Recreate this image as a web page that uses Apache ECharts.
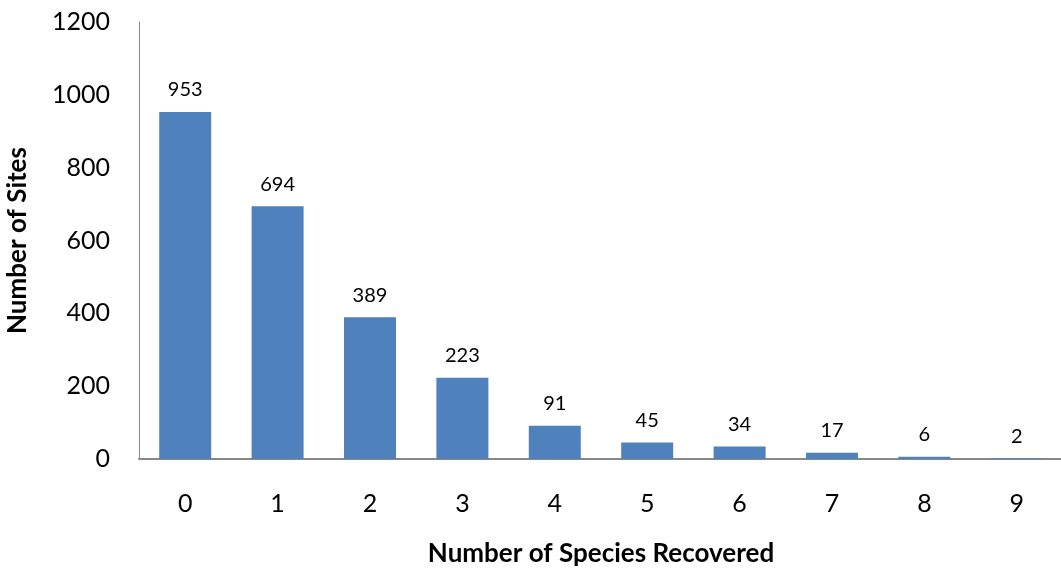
<!DOCTYPE html>
<html>
<head>
<meta charset="utf-8">
<script src="https://cdn.jsdelivr.net/npm/echarts@6/dist/echarts.min.js"></script>
<style>
  html, body { margin: 0; padding: 0; background: #fff; }
  #chart { width: 1061px; height: 569px; }
</style>
</head>
<body>
<div id="chart"></div>
<script>
// Species recovered per site vs. count of sites
const categories = ['0', '1', '2', '3', '4', '5', '6', '7', '8', '9'];
const siteCounts = [953, 694, 389, 223, 91, 45, 34, 17, 6, 2];
const yTicks = { min: 0, max: 1200, interval: 200 };

const fontFamily = 'Lato, "Open Sans", sans-serif';

const chart = echarts.init(document.getElementById('chart'), null, { renderer: 'canvas' });
chart.setOption({
  animation: false,
  grid: { left: 139, top: 22, width: 924, height: 437, containLabel: false, outerBoundsMode: 'none' },
  xAxis: {
    type: 'category',
    data: categories,
    name: 'Number of Species Recovered',
    nameLocation: 'middle',
    nameGap: 82,
    nameTextStyle: { fontFamily, fontSize: 26, fontWeight: 'bold', color: '#000' },
    axisLine: { lineStyle: { color: '#888', width: 2 } },
    axisTick: { show: false },
    axisLabel: { fontFamily, fontSize: 25, color: '#000', margin: 32 }
  },
  yAxis: {
    type: 'value',
    min: yTicks.min,
    max: yTicks.max,
    interval: yTicks.interval,
    name: 'Number of Sites',
    nameLocation: 'middle',
    nameGap: 108,
    nameRotate: 90,
    nameTextStyle: { fontFamily, fontSize: 26, fontWeight: 'bold', color: '#000' },
    axisLine: { show: true, lineStyle: { color: '#888', width: 1 } },
    axisTick: { show: false },
    splitLine: { show: false },
    axisLabel: { fontFamily, fontSize: 25, color: '#000', margin: 29, formatter: (v) => String(v) }
  },
  series: [{
    type: 'bar',
    data: siteCounts,
    barWidth: 52,
    itemStyle: { color: '#4F81BD' },
    label: {
      show: true,
      position: 'top',
      distance: 12,
      fontFamily,
      fontSize: 20,
      color: '#000'
    }
  }]
});
</script>
</body>
</html>
